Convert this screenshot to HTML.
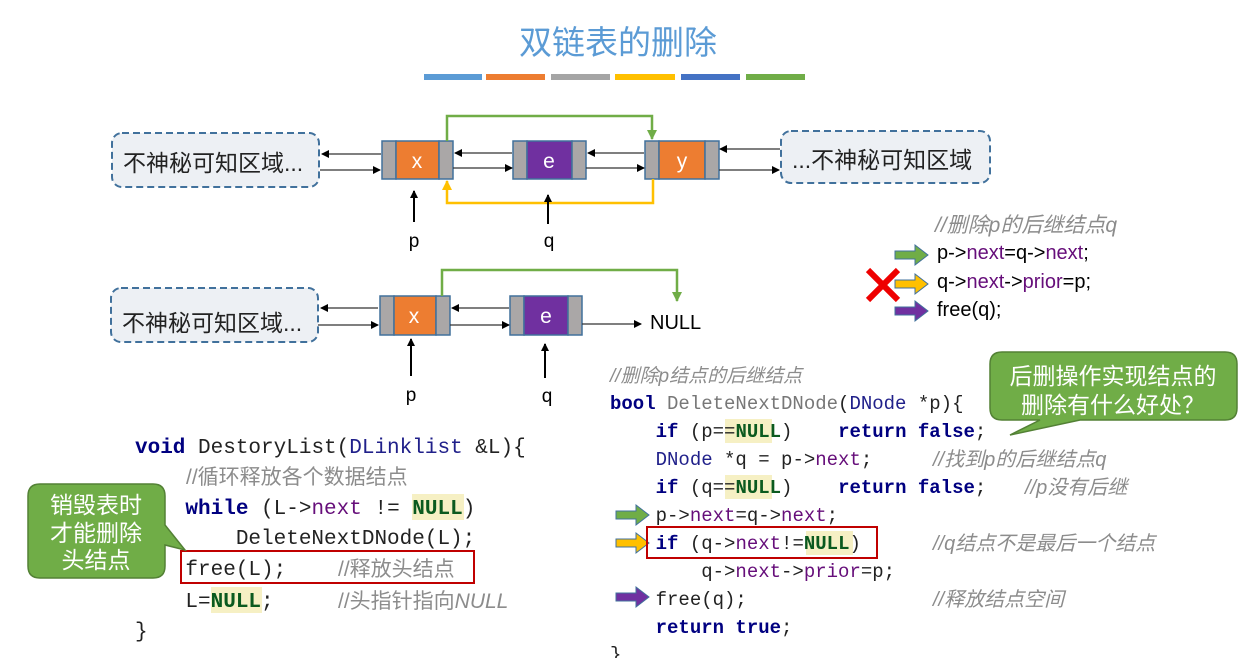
<!DOCTYPE html>
<html><head><meta charset="utf-8"><style>
html,body{margin:0;padding:0;background:#fff;width:1244px;height:658px;overflow:hidden}
svg{display:block}
text{white-space:pre}
.m{font-family:"Liberation Mono","Noto Sans CJK SC",monospace}
.s{font-family:"Liberation Sans","Noto Sans CJK SC",sans-serif}
.kw{fill:#000080;font-weight:bold}
.nx{fill:#660e7a}
.nl{fill:#0b5a1f;font-weight:bold}
.ty{fill:#20208a}
.cm{fill:#8c8c8c;font-style:italic}
</style></head><body>
<svg width="1244" height="658" viewBox="0 0 1244 658" xmlns="http://www.w3.org/2000/svg">
<defs>
<marker id="ah" markerWidth="8" markerHeight="8" refX="7" refY="4" orient="auto" markerUnits="userSpaceOnUse"><path d="M0,0 L8,4 L0,8 z" fill="#000"/></marker>
<marker id="ag" markerWidth="10" markerHeight="10" refX="9" refY="5" orient="auto" markerUnits="userSpaceOnUse"><path d="M0,0 L10,5 L0,10 z" fill="#70ad47"/></marker>
<marker id="ay" markerWidth="10" markerHeight="10" refX="9" refY="5" orient="auto" markerUnits="userSpaceOnUse"><path d="M0,0 L10,5 L0,10 z" fill="#ffc000"/></marker>
</defs>
<text x="618" y="54" text-anchor="middle" class="s" font-size="33" fill="#5b9bd5">双链表的删除</text>
<rect x="424" y="74" width="58" height="6" fill="#5b9bd5"/>
<rect x="486" y="74" width="59" height="6" fill="#ed7d31"/>
<rect x="551" y="74" width="59" height="6" fill="#a5a5a5"/>
<rect x="615" y="74" width="60" height="6" fill="#ffc000"/>
<rect x="681" y="74" width="59" height="6" fill="#4472c4"/>
<rect x="746" y="74" width="59" height="6" fill="#70ad47"/>

<rect x="112" y="133" width="207" height="54" rx="10" fill="#edf0f4" stroke="#41719c" stroke-width="2" stroke-dasharray="7,4"/>
<text x="123" y="171" class="s" font-size="23" fill="#222">不神秘可知区域...</text>
<rect x="781" y="131" width="209" height="52" rx="10" fill="#edf0f4" stroke="#41719c" stroke-width="2" stroke-dasharray="7,4"/>
<text x="792" y="168" class="s" font-size="23" fill="#222">...不神秘可知区域</text>

<g stroke="#41719c" stroke-width="1.5">
<rect x="382" y="141" width="14" height="38" fill="#aaa7a7"/><rect x="396" y="141" width="43" height="38" fill="#ed7d31"/><rect x="439" y="141" width="14" height="38" fill="#aaa7a7"/>
<rect x="513" y="141" width="14" height="38" fill="#aaa7a7"/><rect x="527" y="141" width="45" height="38" fill="#7030a0"/><rect x="572" y="141" width="14" height="38" fill="#aaa7a7"/>
<rect x="645" y="141" width="14" height="38" fill="#aaa7a7"/><rect x="659" y="141" width="46" height="38" fill="#ed7d31"/><rect x="705" y="141" width="14" height="38" fill="#aaa7a7"/>
</g>
<text x="417" y="168" text-anchor="middle" class="s" font-size="21" fill="#fff">x</text>
<text x="549" y="168" text-anchor="middle" class="s" font-size="21" fill="#fff">e</text>
<text x="682" y="168" text-anchor="middle" class="s" font-size="21" fill="#fff">y</text>
<g stroke="#333" stroke-width="1.2" fill="none">
<line x1="381" y1="154" x2="322" y2="154" marker-end="url(#ah)"/>
<line x1="320" y1="170" x2="380" y2="170" marker-end="url(#ah)"/>
<line x1="512" y1="153" x2="455" y2="153" marker-end="url(#ah)"/>
<line x1="453" y1="168" x2="512" y2="168" marker-end="url(#ah)"/>
<line x1="644" y1="153" x2="588" y2="153" marker-end="url(#ah)"/>
<line x1="586" y1="168" x2="644" y2="168" marker-end="url(#ah)"/>
<line x1="780" y1="149" x2="720" y2="149" marker-end="url(#ah)"/>
<line x1="719" y1="170" x2="779" y2="170" marker-end="url(#ah)"/>
</g>
<path d="M447,141 V116 H652 V139" fill="none" stroke="#70ad47" stroke-width="2.5" marker-end="url(#ag)"/>
<path d="M653,179 V203 H447 V181" fill="none" stroke="#ffc000" stroke-width="2.5" marker-end="url(#ay)"/>
<line x1="414" y1="222" x2="414" y2="191" stroke="#000" stroke-width="2" marker-end="url(#ah)"/>
<line x1="548" y1="224" x2="548" y2="195" stroke="#000" stroke-width="2" marker-end="url(#ah)"/>
<text x="414" y="247" text-anchor="middle" class="s" font-size="19">p</text>
<text x="549" y="247" text-anchor="middle" class="s" font-size="19">q</text>

<rect x="111" y="288" width="207" height="54" rx="10" fill="#edf0f4" stroke="#41719c" stroke-width="2" stroke-dasharray="7,4"/>
<text x="122" y="331" class="s" font-size="23" fill="#222">不神秘可知区域...</text>
<g stroke="#41719c" stroke-width="1.5">
<rect x="380" y="296" width="14" height="39" fill="#aaa7a7"/><rect x="394" y="296" width="42" height="39" fill="#ed7d31"/><rect x="436" y="296" width="14" height="39" fill="#aaa7a7"/>
<rect x="510" y="296" width="14" height="39" fill="#aaa7a7"/><rect x="524" y="296" width="44" height="39" fill="#7030a0"/><rect x="568" y="296" width="14" height="39" fill="#aaa7a7"/>
</g>
<text x="414" y="323" text-anchor="middle" class="s" font-size="21" fill="#fff">x</text>
<text x="546" y="323" text-anchor="middle" class="s" font-size="21" fill="#fff">e</text>
<g stroke="#333" stroke-width="1.2" fill="none">
<line x1="378" y1="308" x2="321" y2="308" marker-end="url(#ah)"/>
<line x1="318" y1="325" x2="378" y2="325" marker-end="url(#ah)"/>
<line x1="509" y1="308" x2="452" y2="308" marker-end="url(#ah)"/>
<line x1="450" y1="325" x2="509" y2="325" marker-end="url(#ah)"/>
<line x1="582" y1="324" x2="641" y2="324" marker-end="url(#ah)"/>
</g>
<text x="650" y="329" class="s" font-size="20">NULL</text>
<path d="M442,296 V270 H677 V301" fill="none" stroke="#70ad47" stroke-width="2.5" marker-end="url(#ag)"/>
<line x1="411" y1="376" x2="411" y2="339" stroke="#000" stroke-width="2" marker-end="url(#ah)"/>
<line x1="545" y1="378" x2="545" y2="344" stroke="#000" stroke-width="2" marker-end="url(#ah)"/>
<text x="411" y="401" text-anchor="middle" class="s" font-size="19">p</text>
<text x="547" y="402" text-anchor="middle" class="s" font-size="19">q</text>

<text x="935" y="232" class="s cm" font-size="21">//删除p的后继结点q</text>
<g stroke="#41719c" stroke-width="1">
<path d="M895,251 h20 v-6 l13,10 l-13,10 v-6 h-20z" fill="#70ad47"/>
<path d="M895,280 h20 v-6 l13,10 l-13,10 v-6 h-20z" fill="#ffc000"/>
<path d="M895,307 h20 v-6 l13,10 l-13,10 v-6 h-20z" fill="#7030a0"/>
</g>
<path d="M868,270 L898,300 M898,270 L868,300" stroke="#e00" stroke-width="6"/>
<text x="937" y="259" class="s" font-size="20">p-&gt;<tspan class="nx">next</tspan>=q-&gt;<tspan class="nx">next</tspan>;</text>
<text x="937" y="288" class="s" font-size="20">q-&gt;<tspan class="nx">next</tspan>-&gt;<tspan class="nx">prior</tspan>=p;</text>
<text x="937" y="316" class="s" font-size="20">free(q);</text>

<g fill="#f6f0c4">
<rect x="725" y="419" width="47" height="24"/>
<rect x="725" y="475" width="47" height="24"/>
<rect x="806" y="531" width="47" height="24"/>
</g>
<text x="610" y="382" class="s cm" font-size="19">//删除p结点的后继结点</text>
<g class="m" font-size="19" fill="#222">
<text x="610" y="409"><tspan class="kw">bool</tspan> <tspan fill="#777">DeleteNextDNode</tspan>(<tspan class="ty">DNode</tspan> *p){</text>
<text x="610" y="437">    <tspan class="kw">if</tspan> (p==<tspan class="nl">NULL</tspan>)    <tspan class="kw">return false</tspan>;</text>
<text x="610" y="465">    <tspan class="ty">DNode</tspan> *q = p-&gt;<tspan class="nx">next</tspan>;</text>
<text x="610" y="493">    <tspan class="kw">if</tspan> (q==<tspan class="nl">NULL</tspan>)    <tspan class="kw">return false</tspan>;</text>
<text x="610" y="521">    p-&gt;<tspan class="nx">next</tspan>=q-&gt;<tspan class="nx">next</tspan>;</text>
<text x="610" y="549">    <tspan class="kw">if</tspan> (q-&gt;<tspan class="nx">next</tspan>!=<tspan class="nl">NULL</tspan>)</text>
<text x="610" y="577">        q-&gt;<tspan class="nx">next</tspan>-&gt;<tspan class="nx">prior</tspan>=p;</text>
<text x="610" y="605">    free(q);</text>
<text x="610" y="633">    <tspan class="kw">return true</tspan>;</text>
<text x="610" y="660">}</text>
</g>
<g class="s cm" font-size="20">
<text x="933" y="466">//找到p的后继结点q</text>
<text x="1025" y="494">//p没有后继</text>
<text x="933" y="550">//q结点不是最后一个结点</text>
<text x="933" y="606">//释放结点空间</text>
</g>
<g stroke="#41719c" stroke-width="1">
<path d="M616,511 h20 v-6 l13,10 l-13,10 v-6 h-20z" fill="#70ad47"/>
<path d="M616,539 h20 v-6 l13,10 l-13,10 v-6 h-20z" fill="#ffc000"/>
<path d="M616,593 h20 v-6 l13,10 l-13,10 v-6 h-20z" fill="#7030a0"/>
</g>
<rect x="647" y="527" width="230" height="31" fill="none" stroke="#c00000" stroke-width="2"/>

<path d="M1002,352 H1225 Q1237,352 1237,364 V408 Q1237,420 1225,420 H1080 L1010,435 L1040,420 H1002 Q990,420 990,408 V364 Q990,352 1002,352 z" fill="#70ad47" stroke="#538135" stroke-width="1.5"/>
<text x="1113" y="384" text-anchor="middle" class="s" font-size="23" fill="#fff">后删操作实现结点的</text>
<text x="1113" y="413" text-anchor="middle" class="s" font-size="23" fill="#fff">删除有什么好处？</text>

<g fill="#f6f0c4">
<rect x="412" y="494" width="52" height="26"/>
<rect x="211" y="587" width="51" height="26"/>
</g>
<g class="m" font-size="21" fill="#222">
<text x="135" y="453"><tspan class="kw">void</tspan> DestoryList(<tspan class="ty">DLinklist</tspan> &amp;L){</text>
<text x="135" y="514">    <tspan class="kw">while</tspan> (L-&gt;<tspan class="nx">next</tspan> != <tspan class="nl">NULL</tspan>)</text>
<text x="135" y="544">        DeleteNextDNode(L);</text>
<text x="135" y="575">    free(L);</text>
<text x="135" y="607">    L=<tspan class="nl">NULL</tspan>;</text>
<text x="135" y="637">}</text>
</g>
<g class="s" font-size="21" fill="#8c8c8c">
<text x="186" y="484">//循环释放各个数据结点</text>
<text x="338" y="576">//释放头结点</text>
<text x="338" y="608">//头指针指向<tspan font-style="italic">NULL</tspan></text>
</g>
<rect x="181" y="551" width="293" height="32" fill="none" stroke="#c00000" stroke-width="2"/>

<path d="M40,484 H153 Q165,484 165,496 V525 L185,550 L165,545 V566 Q165,578 153,578 H40 Q28,578 28,566 V496 Q28,484 40,484 z" fill="#70ad47" stroke="#538135" stroke-width="1.5"/>
<text x="96" y="513" text-anchor="middle" class="s" font-size="23" fill="#fff">销毁表时</text>
<text x="96" y="541" text-anchor="middle" class="s" font-size="23" fill="#fff">才能删除</text>
<text x="96" y="568" text-anchor="middle" class="s" font-size="23" fill="#fff">头结点</text>
</svg>
</body></html>
